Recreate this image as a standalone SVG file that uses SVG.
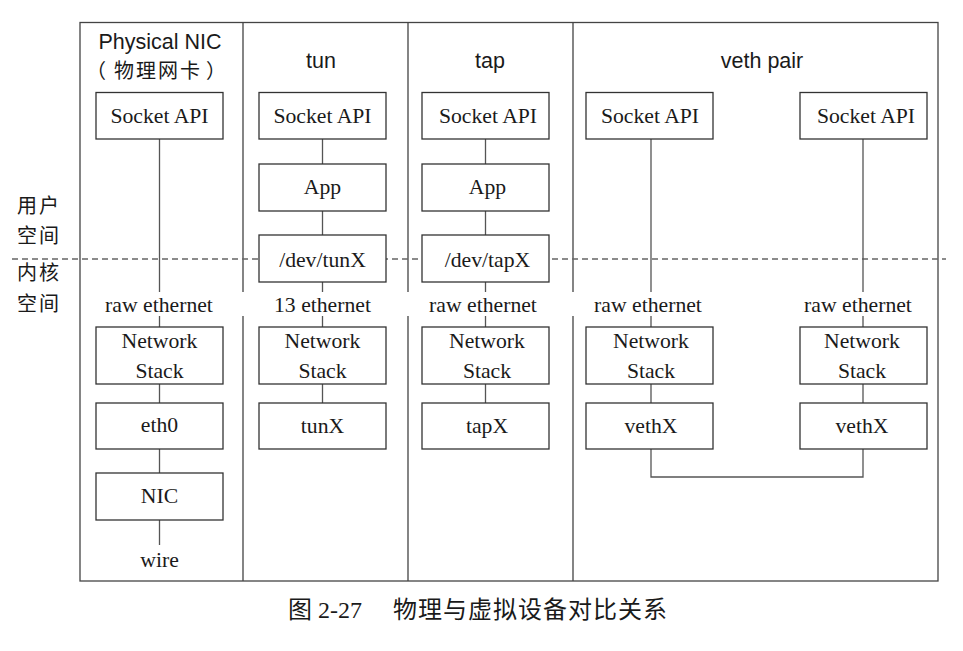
<svg xmlns="http://www.w3.org/2000/svg" width="963" height="651" viewBox="0 0 963 651">
<style>
.box{fill:#fff;stroke:#333;stroke-width:1.3}
.ln{fill:none;stroke:#555;stroke-width:1.3}
.frame{fill:none;stroke:#444;stroke-width:1.3}
.dash{fill:none;stroke:#666;stroke-width:1.3;stroke-dasharray:6 4}
.t{font-family:"Liberation Serif","Noto Sans CJK SC",serif;font-size:21.7px;fill:#1a1a1a;text-anchor:middle}
.h{font-family:"Liberation Sans","Noto Sans CJK SC",sans-serif;font-size:21.5px;fill:#1a1a1a;text-anchor:middle}
.cjk{font-family:"Noto Sans CJK SC",sans-serif;font-size:20px;fill:#1a1a1a;letter-spacing:2px}
.cap{font-family:"Liberation Serif","Noto Sans CJK SC",serif;font-size:24px;fill:#1a1a1a}
</style>
<rect width="963" height="651" fill="#fff"/>
<g id="frame">
<rect class="frame" x="80" y="22.5" width="858" height="558.5"/>
<path class="frame" d="M243 22.5V292M243 316V581M408 22.5V292M408 316V581M573 22.5V292M573 316V581"/>
</g>
<path class="dash" d="M12 259H946"/>
<g id="connectors">
<path class="ln" d="M159.5 139V292M159.5 316V327M159.5 384V403M159.5 449V473M159.5 520V545"/>
<path class="ln" d="M322.5 139V164M322.5 211V235M322.5 282V292M322.5 316V327M322.5 384V403"/>
<path class="ln" d="M485.5 139V164M485.5 211V235M485.5 282V292M485.5 316V327M485.5 384V403"/>
<path class="ln" d="M651 139V292M651 316V327M651 384V403"/>
<path class="ln" d="M863 139V292M863 316V327M863 384V403"/>
<path class="ln" d="M651 449V477H863V449"/>
</g>
<g id="labels">
<text class="h" x="160" y="49">Physical NIC</text>
<text class="cjk" y="78" style="letter-spacing:2px"><tspan x="86">（</tspan><tspan x="114">物理网卡</tspan><tspan x="206">）</tspan></text>
<text class="h" x="321" y="68">tun</text>
<text class="h" x="490" y="68">tap</text>
<text class="h" x="762" y="68">veth pair</text>
<text class="cjk" x="17" y="213">用户</text>
<text class="cjk" x="17" y="243">空间</text>
<text class="cjk" x="17" y="280">内核</text>
<text class="cjk" x="17" y="311">空间</text>
<text class="t" x="159" y="312">raw ethernet</text>
<text class="t" x="322.5" y="312">13 ethernet</text>
<text class="t" x="483" y="312">raw ethernet</text>
<text class="t" x="648" y="312">raw ethernet</text>
<text class="t" x="858" y="312">raw ethernet</text>
<text class="t" x="159.5" y="567">wire</text>
</g>
<g id="phys-socket"><rect class="box" x="96" y="92.5" width="127" height="46.5"/><text class="t" x="159.5" y="123">Socket API</text></g>
<g id="phys-stack"><rect class="box" x="96" y="327" width="127" height="57"/><text class="t" x="159.5" y="348">Network</text><text class="t" x="159.5" y="378">Stack</text></g>
<g id="phys-eth0"><rect class="box" x="96" y="403" width="127" height="46"/><text class="t" x="159.5" y="432">eth0</text></g>
<g id="phys-nic"><rect class="box" x="96" y="473" width="127" height="47"/><text class="t" x="159.5" y="503">NIC</text></g>
<g id="tun-socket"><rect class="box" x="259" y="92.5" width="127" height="46.5"/><text class="t" x="322.5" y="123">Socket API</text></g>
<g id="tun-app"><rect class="box" x="259" y="164" width="127" height="47"/><text class="t" x="322.5" y="194">App</text></g>
<g id="tun-dev"><rect class="box" x="259" y="235" width="127" height="47"/><text class="t" x="322.5" y="267">/dev/tunX</text></g>
<g id="tun-stack"><rect class="box" x="259" y="327" width="127" height="57"/><text class="t" x="322.5" y="348">Network</text><text class="t" x="322.5" y="378">Stack</text></g>
<g id="tun-if"><rect class="box" x="259" y="403" width="127" height="46"/><text class="t" x="322.5" y="433">tunX</text></g>
<g id="tap-socket"><rect class="box" x="422" y="92.5" width="127" height="46.5"/><text class="t" x="488" y="123">Socket API</text></g>
<g id="tap-app"><rect class="box" x="422" y="164" width="127" height="47"/><text class="t" x="487.5" y="194">App</text></g>
<g id="tap-dev"><rect class="box" x="422" y="235" width="127" height="47"/><text class="t" x="487.5" y="267">/dev/tapX</text></g>
<g id="tap-stack"><rect class="box" x="422" y="327" width="127" height="57"/><text class="t" x="487" y="348">Network</text><text class="t" x="487" y="378">Stack</text></g>
<g id="tap-if"><rect class="box" x="422" y="403" width="127" height="46"/><text class="t" x="487" y="433">tapX</text></g>
<g id="veth1-socket"><rect class="box" x="586" y="92.5" width="127" height="46.5"/><text class="t" x="650" y="123">Socket API</text></g>
<g id="veth1-stack"><rect class="box" x="586" y="327" width="127" height="57"/><text class="t" x="651" y="348">Network</text><text class="t" x="651" y="378">Stack</text></g>
<g id="veth1-if"><rect class="box" x="586" y="403" width="127" height="46"/><text class="t" x="651" y="433">vethX</text></g>
<g id="veth2-socket"><rect class="box" x="800" y="92.5" width="127" height="46.5"/><text class="t" x="866" y="123">Socket API</text></g>
<g id="veth2-stack"><rect class="box" x="800" y="327" width="127" height="57"/><text class="t" x="862" y="348">Network</text><text class="t" x="862" y="378">Stack</text></g>
<g id="veth2-if"><rect class="box" x="800" y="403" width="127" height="46"/><text class="t" x="862" y="433">vethX</text></g>
<text class="cap" y="618"><tspan x="288">图 2-27</tspan><tspan x="393" style="letter-spacing:1px">物理与虚拟设备对比关系</tspan></text>
</svg>
